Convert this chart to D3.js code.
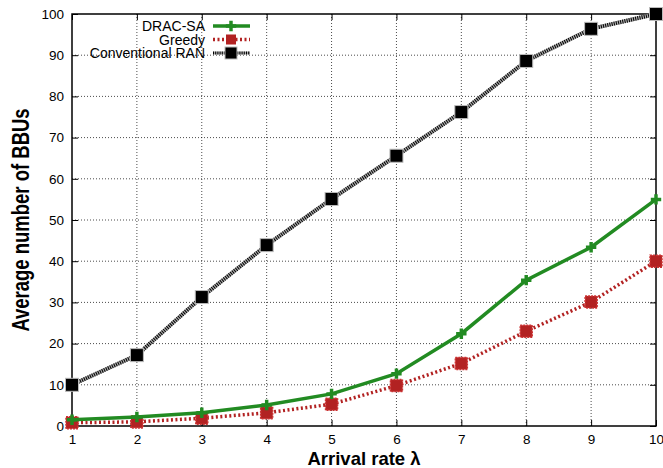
<!DOCTYPE html>
<html><head><meta charset="utf-8">
<script src="https://cdn.jsdelivr.net/npm/d3@7"></script>
<style>body{margin:0;background:#fff}svg{display:block;font-family:"Liberation Sans",Arial,sans-serif}</style>
</head><body><svg id="c" width="663" height="468"></svg>
<script>
const xValues = [1,2,3,4,5,6,7,8,9,10];
const dracSA = [1.5,2.2,3.2,5.1,7.8,12.7,22.4,35.4,43.4,55.0];
const greedy = [0.8,1.0,1.9,3.2,5.3,9.8,15.2,23.0,30.1,40.0];
const conventional = [10.0,17.2,31.3,43.9,55.1,65.6,76.2,88.6,96.4,100.0];
const yTicks = [0,10,20,30,40,50,60,70,80,90,100];
const seriesNames = ["DRAC-SA","Greedy","Conventional RAN"];

const svg = d3.select("#c");
const L=72,R=656,T=14,B=426;
const x = d3.scaleLinear().domain([1,10]).range([L,R]);
const y = d3.scaleLinear().domain([0,100]).range([B,T]);

// grid
const g = svg.append("g");
g.selectAll(".gx").data(xValues.slice(1,-1)).join("line")
 .attr("x1",d=>x(d)).attr("x2",d=>x(d)).attr("y1",T).attr("y2",B)
 .attr("stroke","#000").attr("stroke-width",1).attr("stroke-dasharray","1,2").attr("opacity",0.7);
g.selectAll(".gy").data(yTicks.slice(1,-1)).join("line")
 .attr("y1",d=>y(d)).attr("y2",d=>y(d)).attr("x1",L).attr("x2",R)
 .attr("stroke","#000").attr("stroke-width",1).attr("stroke-dasharray","1,2").attr("opacity",0.7);

// axes
svg.append("g").attr("transform",`translate(0,${B})`)
 .call(d3.axisBottom(x).tickValues(xValues).tickFormat(d3.format("d")).tickSize(-6).tickPadding(8));
svg.append("g").attr("transform",`translate(${L},0)`)
 .call(d3.axisLeft(y).tickValues(yTicks).tickSize(-6).tickPadding(8));
svg.append("g").attr("transform",`translate(0,${T})`)
 .call(d3.axisTop(x).tickValues(xValues).tickSize(-6).tickFormat(""));
svg.append("g").attr("transform",`translate(${R},0)`)
 .call(d3.axisRight(y).tickValues(yTicks).tickSize(-6).tickFormat(""));
svg.selectAll(".domain").remove();
svg.selectAll(".tick line").attr("stroke","#000");
svg.selectAll(".tick text").attr("font-size",13.5).attr("fill","#000").attr("font-family","Liberation Sans, Arial, sans-serif");
svg.append("rect").attr("x",L).attr("y",T).attr("width",R-L).attr("height",B-T)
 .attr("fill","none").attr("stroke","#000").attr("stroke-width",1.5);

// titles
svg.append("text").attr("x",364).attr("y",465).attr("text-anchor","middle")
 .attr("font-weight","bold").attr("font-size",18.5).text("Arrival rate λ");
svg.append("text").attr("transform","translate(29,220) scale(1.3,1) rotate(-90)").attr("text-anchor","middle")
 .attr("font-weight","bold").attr("font-size",18.5).text("Average number of BBUs");

const line = d3.line().x((d,i)=>x(xValues[i])).y(d=>y(d));

// conventional
const cg = svg.append("g");
cg.append("path").attr("d",line(conventional)).attr("fill","none").attr("stroke","#aaa").attr("stroke-width",4);
cg.append("path").attr("d",line(conventional)).attr("fill","none").attr("stroke","#000").attr("stroke-width",4).attr("stroke-dasharray","1,1.2");
cg.selectAll("rect").data(conventional).join("rect")
 .attr("x",(d,i)=>x(xValues[i])-6.5).attr("y",d=>y(d)-6.5).attr("width",13).attr("height",13)
 .attr("fill","#000").attr("stroke","#bbb").attr("stroke-width",1);

// greedy
const gg = svg.append("g");
gg.append("path").attr("d",line(greedy)).attr("fill","none").attr("stroke","#b22222").attr("stroke-width",3.5).attr("stroke-dasharray","2,2.5");
gg.selectAll("rect").data(greedy).join("rect")
 .attr("x",(d,i)=>x(xValues[i])-6).attr("y",d=>y(d)-6).attr("width",12).attr("height",12)
 .attr("fill","#b22222").attr("stroke","#c33").attr("stroke-width",1.5).attr("stroke-dasharray","2,1");

// drac-sa
const dg = svg.append("g");
dg.append("path").attr("d",line(dracSA)).attr("fill","none").attr("stroke","#228b22").attr("stroke-width",3.5);
dg.selectAll("path.m").data(dracSA).join("path").attr("class","m")
 .attr("d",d3.symbol(d3.symbolCross,60)())
 .attr("transform",(d,i)=>`translate(${x(xValues[i])},${y(d)})`).attr("fill","#228b22");

// legend
const lg = svg.append("g").attr("font-size",14);
const ly = [26,39.5,53];
seriesNames.forEach((n,i)=>{
  lg.append("text").attr("x",205).attr("y",ly[i]+5).attr("text-anchor","end").text(n);
});
lg.append("line").attr("x1",213).attr("x2",250).attr("y1",ly[0]).attr("y2",ly[0]).attr("stroke","#228b22").attr("stroke-width",3.5);
lg.append("path").attr("d",d3.symbol(d3.symbolCross,60)()).attr("transform",`translate(231,${ly[0]})`).attr("fill","#228b22");
lg.append("line").attr("x1",213).attr("x2",250).attr("y1",ly[1]).attr("y2",ly[1]).attr("stroke","#b22222").attr("stroke-width",3.5).attr("stroke-dasharray","2,2.5");
lg.append("rect").attr("x",226).attr("y",ly[1]-5).attr("width",10).attr("height",10).attr("fill","#b22222");
lg.append("line").attr("x1",213).attr("x2",250).attr("y1",ly[2]).attr("y2",ly[2]).attr("stroke","#aaa").attr("stroke-width",3);
lg.append("line").attr("x1",213).attr("x2",250).attr("y1",ly[2]).attr("y2",ly[2]).attr("stroke","#000").attr("stroke-width",3).attr("stroke-dasharray","1,1.2");
lg.append("rect").attr("x",225).attr("y",ly[2]-6).attr("width",12).attr("height",12).attr("fill","#000").attr("stroke","#bbb");
</script></body></html>
